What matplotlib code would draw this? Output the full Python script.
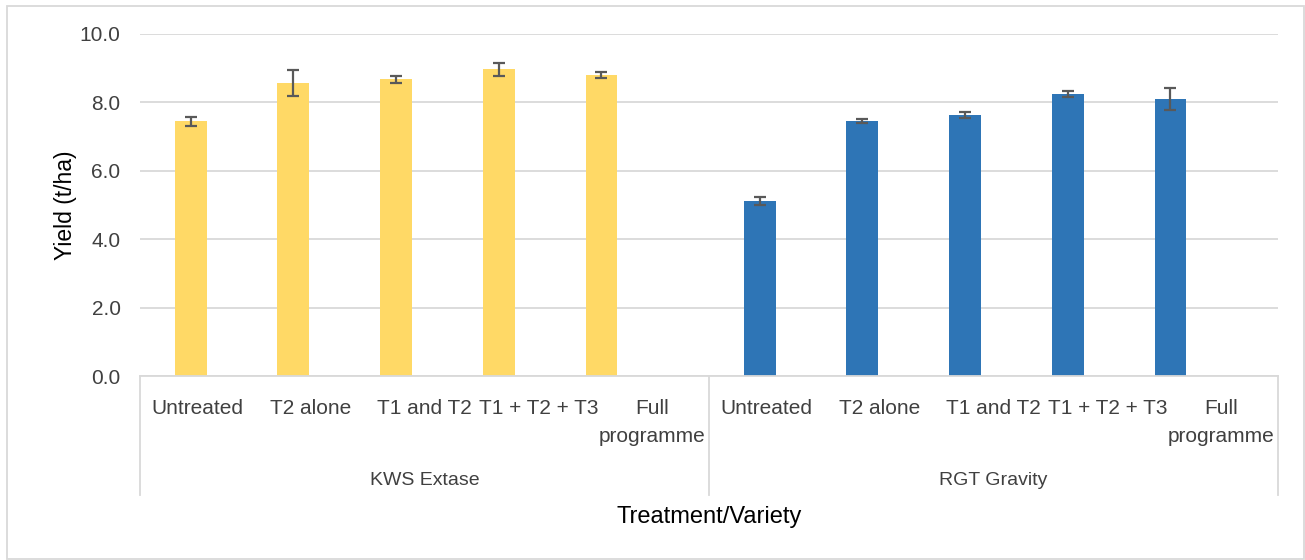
import numpy as np
import matplotlib
matplotlib.use("Agg")
import matplotlib.pyplot as plt
from matplotlib.patches import Rectangle
from matplotlib.lines import Line2D
import matplotlib.transforms as mtransforms

plt.rcParams['font.family'] = ['Liberation Sans', 'DejaVu Sans']

# data
varieties = ['KWS Extase', 'RGT Gravity']
treatments = ['Untreated', 'T2 alone', 'T1 and T2', 'T1 + T2 + T3', 'Full\nprogramme']
kws_yield = [7.45, 8.57, 8.67, 8.97, 8.79]
kws_err = [0.13, 0.37, 0.09, 0.19, 0.09]
rgt_yield = [5.11, 7.45, 7.63, 8.25, 8.10]
rgt_err = [0.12, 0.06, 0.08, 0.08, 0.31]
bar_colors = ['#FFD966', '#2E75B6']

text_col = '#404040'
grid_col = '#D9D9D9'

fig = plt.figure(figsize=(13.05, 5.6), dpi=100)
ax = fig.add_axes([140/1305, 1 - 376/560, 1138/1305, 342/560])

n = len(treatments)
series = [(kws_yield, kws_err), (rgt_yield, rgt_err)]
for g, (vals, errs) in enumerate(series):
    xs = g * n + 0.445 + 0.9025 * np.arange(n)
    ax.bar(xs, vals, width=0.28, color=bar_colors[g], zorder=2)
    ax.errorbar(xs, vals, yerr=errs, fmt='none', ecolor='#595959',
                elinewidth=1.6, capsize=4, capthick=1.6, zorder=3)

ax.set_xlim(0, 2 * n)
ax.set_ylim(0, 10)
ax.set_yticks(np.arange(0, 10.1, 2))
ax.set_yticklabels([f'{v:.1f}' for v in np.arange(0, 10.1, 2)])
ax.yaxis.grid(True, color=grid_col, linewidth=1.3, zorder=0)
ax.tick_params(axis='y', length=0, pad=14, labelsize=15, labelcolor=text_col)
ax.set_xticks([])
for s in ['top', 'right', 'left']:
    ax.spines[s].set_visible(False)
ax.spines['bottom'].set_color(grid_col)
ax.spines['bottom'].set_linewidth(1.3)

ax.set_ylabel('Yield (t/ha)', fontsize=16.5, color='black', labelpad=2)

# multi-level category axis
trans = mtransforms.blended_transform_factory(ax.transData, ax.transAxes)
for g, name in enumerate(varieties):
    for i, t in enumerate(treatments):
        ax.text(g * n + i + 0.5, -0.068, t, transform=trans, ha='center', va='top',
                fontsize=15, color=text_col, linespacing=1.6)
    ax.text(g * n + n / 2, -0.305, name, transform=trans, ha='center', va='center',
            fontsize=14, color=text_col)
for xv in [0, n, 2 * n]:
    ax.add_line(Line2D([xv, xv], [0, -0.348], transform=trans, color=grid_col,
                       linewidth=1.3, clip_on=False))

ax.text(0.5, -0.413, 'Treatment/Variety', transform=ax.transAxes, ha='center',
        va='center', fontsize=17, color='black')

fig.patches.append(Rectangle((7/1305, 1/560), 1297/1305, 553/560, transform=fig.transFigure,
                             fill=False, edgecolor=grid_col, linewidth=1.3))

fig.savefig('out.png', dpi=100)
